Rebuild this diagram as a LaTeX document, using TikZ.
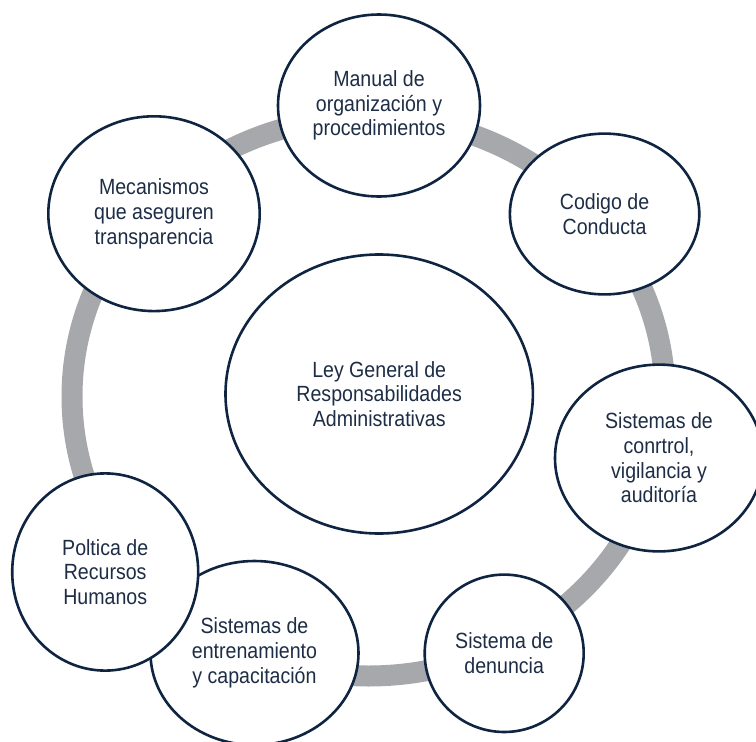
\documentclass[tikz,border=0pt]{standalone}
\usepackage{fontspec}
\setmainfont{Liberation Sans}[FakeStretch=0.89]
\usetikzlibrary{shapes.geometric}
\definecolor{ringgray}{RGB}{167,168,172}
\definecolor{navy}{RGB}{14,36,64}
\definecolor{txt}{RGB}{30,45,70}
\tikzset{
  bubble/.style={ellipse, draw=navy, line width=2.6pt, fill=white, inner sep=0pt,
    align=center, text=txt, font=\fontsize{22}{24.7}\selectfont},
  ring/.style={draw=ringgray, line width=21pt}
}
\begin{document}
\begin{tikzpicture}[x=1pt,y=-1pt]
\useasboundingbox (0,0) rectangle (756,742);
\coordinate (rc) at (368.5,396.5);
\draw[ring] (rc) ellipse [x radius=296.5pt, y radius=279.5pt];
\node[bubble, minimum width=202pt, minimum height=182pt] (manual) at (379,105.5) {Manual de\\organización y\\procedimientos};
\node[bubble, minimum width=211.4pt, minimum height=194.8pt] (meca) at (154,213.7) {Mecanismos\\que aseguren\\transparencia};
\node[bubble, minimum width=189.4pt, minimum height=160.8pt] (codigo) at (604.6,214) {Codigo de\\Conducta};
\node[bubble, minimum width=307.4pt, minimum height=279pt] (ley) at (379.2,394) {Ley General de\\Responsabilidades\\Administrativas};
\node[bubble, minimum width=208pt, minimum height=186.8pt] (control) at (659,458) {Sistemas de\\conrtrol,\\vigilancia y\\auditoría};
\node[bubble, minimum width=208pt, minimum height=184pt] (entren) at (254.5,653) {Sistemas de\\entrenamiento\\y capacitación};
\node[bubble, minimum width=186pt, minimum height=197.2pt] (poltica) at (105.2,572) {Poltica de\\Recursos\\Humanos};
\node[bubble, minimum width=159pt, minimum height=157.4pt] (denuncia) at (504.2,653.3) {Sistema de\\denuncia};
\end{tikzpicture}
\end{document}
